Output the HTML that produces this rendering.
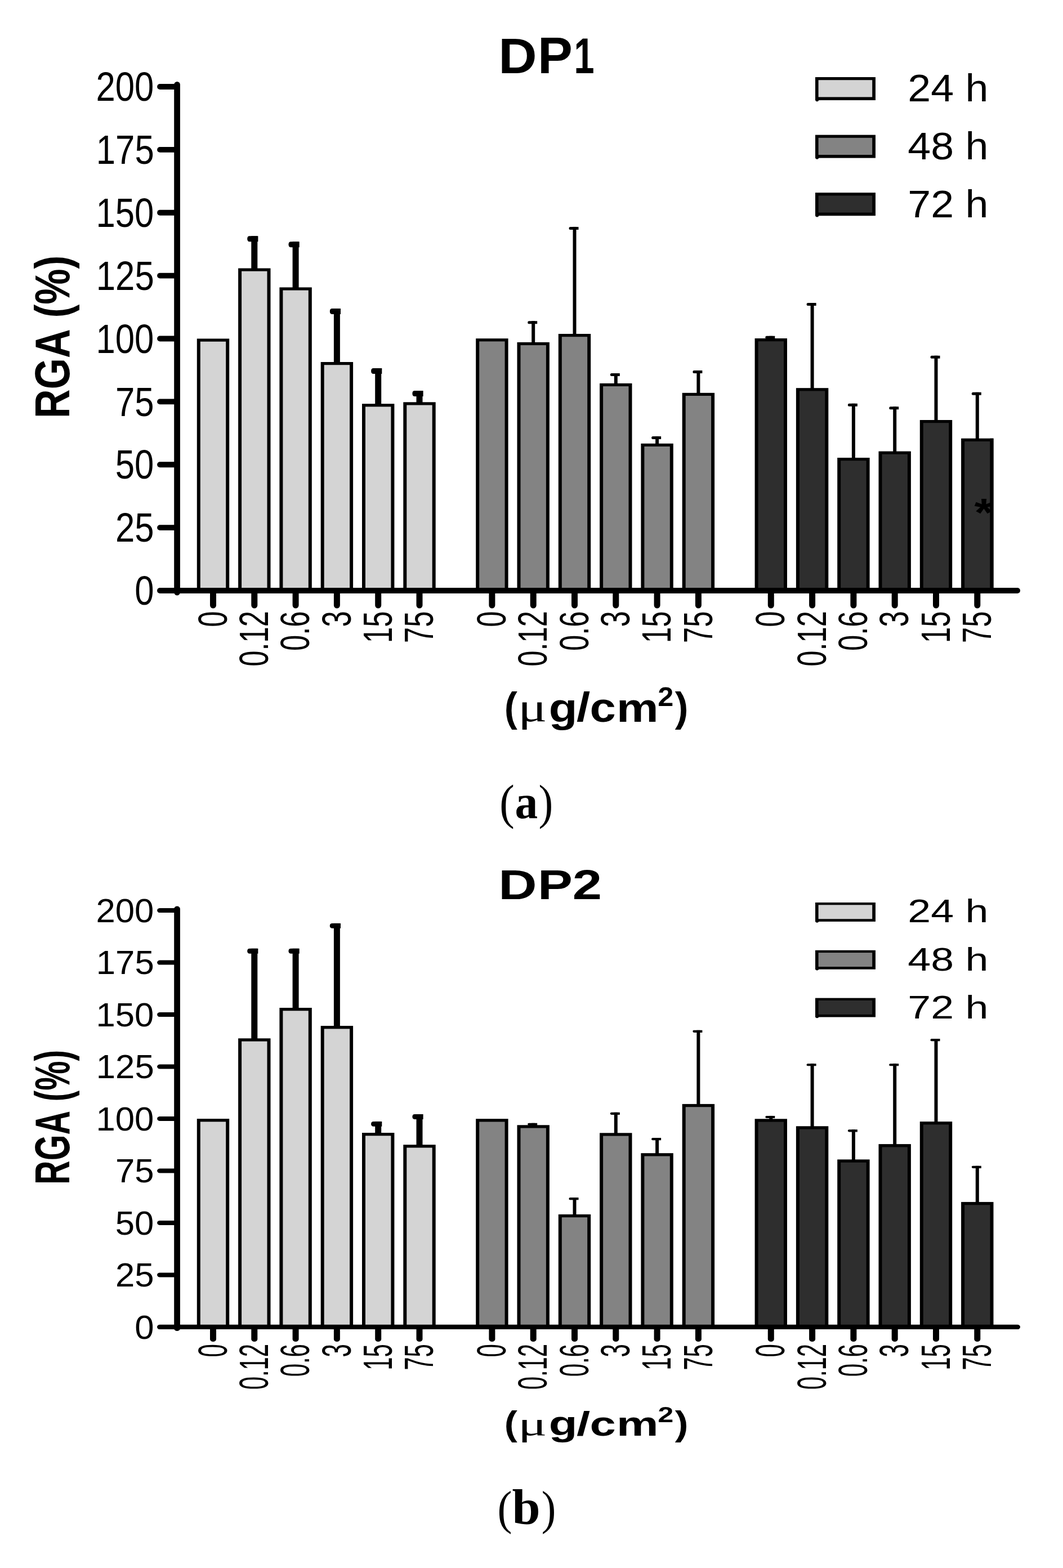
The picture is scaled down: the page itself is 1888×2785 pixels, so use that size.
<!DOCTYPE html>
<html><head><meta charset="utf-8"><title>RGA DP1 DP2</title>
<style>html,body{margin:0;padding:0;background:#fff;}svg{display:block;}text{font-kerning:none;}</style>
</head><body>
<svg width="1888" height="2785" viewBox="0 0 1888 2785">
<rect width="1888" height="2785" fill="#fff"/>
<text transform="translate(885.15,129.70) scale(1.0585,1)" font-family="'Liberation Sans', sans-serif" font-weight="bold" font-size="89.40">D</text>
<text transform="translate(954.97,130.15) scale(1.0306,1)" font-family="'Liberation Sans', sans-serif" font-weight="bold" font-size="90.05">P</text>
<text transform="translate(1019.58,129.70) scale(0.7265,1)" font-family="'Liberation Sans', sans-serif" font-weight="bold" font-size="89.40">1</text>
<rect x="1448" y="137.0" width="107" height="41" fill="#000"/>
<rect x="1453.6" y="142.2" width="95.6" height="30.2" fill="#d4d4d4"/>
<circle cx="1451.2" cy="177.2" r="3" fill="#000"/>
<text transform="translate(1612.30,179.90) scale(1.0660,1)" font-family="'Liberation Sans', sans-serif" font-weight="normal" font-size="69.00">24 h</text>
<rect x="1448" y="239.6" width="107" height="41" fill="#000"/>
<rect x="1453.6" y="244.8" width="95.6" height="30.2" fill="#838383"/>
<circle cx="1451.2" cy="279.8" r="3" fill="#000"/>
<text transform="translate(1612.30,282.80) scale(1.0660,1)" font-family="'Liberation Sans', sans-serif" font-weight="normal" font-size="69.00">48 h</text>
<rect x="1448" y="342.2" width="107" height="41" fill="#000"/>
<rect x="1453.6" y="347.4" width="95.6" height="30.2" fill="#2e2e2e"/>
<circle cx="1451.2" cy="382.4" r="3" fill="#000"/>
<text transform="translate(1612.30,385.70) scale(1.0660,1)" font-family="'Liberation Sans', sans-serif" font-weight="normal" font-size="69.00">72 h</text>
<rect x="349.80" y="601.50" width="57.4" height="447.50" fill="#000"/>
<rect x="355.80" y="606.70" width="45.40" height="442.30" fill="#d4d4d4"/>
<rect x="423.10" y="476.50" width="57.4" height="572.50" fill="#000"/>
<rect x="429.10" y="481.70" width="45.40" height="567.30" fill="#d4d4d4"/>
<rect x="446.30" y="419.30" width="11.0" height="58.20" fill="#000"/>
<path d="M458.40,419.30H443.20Q439.20,419.30 439.20,424.30Q439.20,429.30 443.20,429.30H458.40Z" fill="#000"/>
<rect x="496.40" y="510.40" width="57.4" height="538.60" fill="#000"/>
<rect x="502.40" y="515.60" width="45.40" height="533.40" fill="#d4d4d4"/>
<rect x="519.60" y="429.20" width="11.0" height="82.20" fill="#000"/>
<path d="M531.70,429.20H516.50Q512.50,429.20 512.50,434.20Q512.50,439.20 516.50,439.20H531.70Z" fill="#000"/>
<rect x="569.70" y="643.00" width="57.4" height="406.00" fill="#000"/>
<rect x="575.70" y="648.20" width="45.40" height="400.80" fill="#d4d4d4"/>
<rect x="592.90" y="548.00" width="11.0" height="96.00" fill="#000"/>
<path d="M605.00,548.00H589.80Q585.80,548.00 585.80,553.00Q585.80,558.00 589.80,558.00H605.00Z" fill="#000"/>
<rect x="643.00" y="717.20" width="57.4" height="331.80" fill="#000"/>
<rect x="649.00" y="722.40" width="45.40" height="326.60" fill="#d4d4d4"/>
<rect x="666.20" y="654.00" width="11.0" height="64.20" fill="#000"/>
<path d="M678.30,654.00H663.10Q659.10,654.00 659.10,659.00Q659.10,664.00 663.10,664.00H678.30Z" fill="#000"/>
<rect x="716.30" y="714.30" width="57.4" height="334.70" fill="#000"/>
<rect x="722.30" y="719.50" width="45.40" height="329.50" fill="#d4d4d4"/>
<rect x="739.50" y="694.10" width="11.0" height="21.20" fill="#000"/>
<path d="M751.60,694.10H736.40Q732.40,694.10 732.40,699.10Q732.40,704.10 736.40,704.10H751.60Z" fill="#000"/>
<rect x="845.20" y="601.20" width="57.4" height="447.80" fill="#000"/>
<rect x="851.20" y="606.40" width="45.40" height="442.60" fill="#838383"/>
<rect x="918.50" y="607.90" width="57.4" height="441.10" fill="#000"/>
<rect x="924.50" y="613.10" width="45.40" height="435.90" fill="#838383"/>
<rect x="944.20" y="570.20" width="6.0" height="38.70" fill="#000"/>
<path d="M954.20,570.20H939.20Q937.20,570.20 937.20,572.70Q937.20,575.20 939.20,575.20H954.20Z" fill="#000"/>
<rect x="991.80" y="593.00" width="57.4" height="456.00" fill="#000"/>
<rect x="997.80" y="598.20" width="45.40" height="450.80" fill="#838383"/>
<rect x="1017.50" y="402.90" width="6.0" height="191.10" fill="#000"/>
<path d="M1027.50,402.90H1012.50Q1010.50,402.90 1010.50,405.40Q1010.50,407.90 1012.50,407.90H1027.50Z" fill="#000"/>
<rect x="1065.10" y="680.90" width="57.4" height="368.10" fill="#000"/>
<rect x="1071.10" y="686.10" width="45.40" height="362.90" fill="#838383"/>
<rect x="1090.80" y="663.10" width="6.0" height="18.80" fill="#000"/>
<path d="M1100.80,663.10H1085.80Q1083.80,663.10 1083.80,665.60Q1083.80,668.10 1085.80,668.10H1100.80Z" fill="#000"/>
<rect x="1138.40" y="787.80" width="57.4" height="261.20" fill="#000"/>
<rect x="1144.40" y="793.00" width="45.40" height="256.00" fill="#838383"/>
<rect x="1164.10" y="774.90" width="6.0" height="13.90" fill="#000"/>
<path d="M1174.10,774.90H1159.10Q1157.10,774.90 1157.10,777.40Q1157.10,779.90 1159.10,779.90H1174.10Z" fill="#000"/>
<rect x="1211.70" y="697.80" width="57.4" height="351.20" fill="#000"/>
<rect x="1217.70" y="703.00" width="45.40" height="346.00" fill="#838383"/>
<rect x="1237.40" y="658.10" width="6.0" height="40.70" fill="#000"/>
<path d="M1247.40,658.10H1232.40Q1230.40,658.10 1230.40,660.60Q1230.40,663.10 1232.40,663.10H1247.40Z" fill="#000"/>
<rect x="1340.60" y="601.00" width="57.4" height="448.00" fill="#000"/>
<rect x="1346.60" y="606.20" width="45.40" height="442.80" fill="#2e2e2e"/>
<rect x="1366.30" y="596.80" width="6.0" height="5.20" fill="#000"/>
<path d="M1376.30,596.80H1361.30Q1359.30,596.80 1359.30,599.30Q1359.30,601.80 1361.30,601.80H1376.30Z" fill="#000"/>
<rect x="1413.90" y="689.20" width="57.4" height="359.80" fill="#000"/>
<rect x="1419.90" y="694.40" width="45.40" height="354.60" fill="#2e2e2e"/>
<rect x="1439.60" y="538.10" width="6.0" height="152.10" fill="#000"/>
<path d="M1449.60,538.10H1434.60Q1432.60,538.10 1432.60,540.60Q1432.60,543.10 1434.60,543.10H1449.60Z" fill="#000"/>
<rect x="1487.20" y="813.00" width="57.4" height="236.00" fill="#000"/>
<rect x="1493.20" y="818.20" width="45.40" height="230.80" fill="#2e2e2e"/>
<rect x="1512.90" y="716.80" width="6.0" height="97.20" fill="#000"/>
<path d="M1522.90,716.80H1507.90Q1505.90,716.80 1505.90,719.30Q1505.90,721.80 1507.90,721.80H1522.90Z" fill="#000"/>
<rect x="1560.50" y="801.60" width="57.4" height="247.40" fill="#000"/>
<rect x="1566.50" y="806.80" width="45.40" height="242.20" fill="#2e2e2e"/>
<rect x="1586.20" y="722.20" width="6.0" height="80.40" fill="#000"/>
<path d="M1596.20,722.20H1581.20Q1579.20,722.20 1579.20,724.70Q1579.20,727.20 1581.20,727.20H1596.20Z" fill="#000"/>
<rect x="1633.80" y="746.00" width="57.4" height="303.00" fill="#000"/>
<rect x="1639.80" y="751.20" width="45.40" height="297.80" fill="#2e2e2e"/>
<rect x="1659.50" y="631.70" width="6.0" height="115.30" fill="#000"/>
<path d="M1669.50,631.70H1654.50Q1652.50,631.70 1652.50,634.20Q1652.50,636.70 1654.50,636.70H1669.50Z" fill="#000"/>
<rect x="1707.10" y="778.70" width="57.4" height="270.30" fill="#000"/>
<rect x="1713.10" y="783.90" width="45.40" height="265.10" fill="#2e2e2e"/>
<text transform="translate(1730.57,934.76) scale(1.2264,1)" font-family="'Liberation Sans', sans-serif" font-weight="bold" font-size="70.81">*</text>
<rect x="1758.50" y="778.70" width="6" height="270.30" fill="#000"/>
<rect x="1732.80" y="696.80" width="6.0" height="82.90" fill="#000"/>
<path d="M1742.80,696.80H1727.80Q1725.80,696.80 1725.80,699.30Q1725.80,701.80 1727.80,701.80H1742.80Z" fill="#000"/>
<g stroke="#000" stroke-linecap="round" fill="none">
<line x1="314.55" y1="150.35" x2="314.55" y2="1052.25" stroke-width="10.7"/>
<line x1="284" y1="1049.0" x2="1807" y2="1049.0" stroke-width="10"/>
<line x1="284" y1="937.12" x2="314" y2="937.12" stroke-width="9.8"/>
<line x1="284" y1="825.25" x2="314" y2="825.25" stroke-width="9.8"/>
<line x1="284" y1="713.38" x2="314" y2="713.38" stroke-width="9.8"/>
<line x1="284" y1="601.50" x2="314" y2="601.50" stroke-width="9.8"/>
<line x1="284" y1="489.62" x2="314" y2="489.62" stroke-width="9.8"/>
<line x1="284" y1="377.75" x2="314" y2="377.75" stroke-width="9.8"/>
<line x1="284" y1="265.88" x2="314" y2="265.88" stroke-width="9.8"/>
<line x1="284" y1="154.00" x2="314" y2="154.00" stroke-width="9.8"/>
<line x1="378.50" y1="1053.0" x2="378.50" y2="1075" stroke-width="11"/>
<line x1="451.80" y1="1053.0" x2="451.80" y2="1075" stroke-width="11"/>
<line x1="525.10" y1="1053.0" x2="525.10" y2="1075" stroke-width="11"/>
<line x1="598.40" y1="1053.0" x2="598.40" y2="1075" stroke-width="11"/>
<line x1="671.70" y1="1053.0" x2="671.70" y2="1075" stroke-width="11"/>
<line x1="745.00" y1="1053.0" x2="745.00" y2="1075" stroke-width="11"/>
<line x1="873.90" y1="1053.0" x2="873.90" y2="1075" stroke-width="11"/>
<line x1="947.20" y1="1053.0" x2="947.20" y2="1075" stroke-width="11"/>
<line x1="1020.50" y1="1053.0" x2="1020.50" y2="1075" stroke-width="11"/>
<line x1="1093.80" y1="1053.0" x2="1093.80" y2="1075" stroke-width="11"/>
<line x1="1167.10" y1="1053.0" x2="1167.10" y2="1075" stroke-width="11"/>
<line x1="1240.40" y1="1053.0" x2="1240.40" y2="1075" stroke-width="11"/>
<line x1="1369.30" y1="1053.0" x2="1369.30" y2="1075" stroke-width="11"/>
<line x1="1442.60" y1="1053.0" x2="1442.60" y2="1075" stroke-width="11"/>
<line x1="1515.90" y1="1053.0" x2="1515.90" y2="1075" stroke-width="11"/>
<line x1="1589.20" y1="1053.0" x2="1589.20" y2="1075" stroke-width="11"/>
<line x1="1662.50" y1="1053.0" x2="1662.50" y2="1075" stroke-width="11"/>
<line x1="1735.80" y1="1053.0" x2="1735.80" y2="1075" stroke-width="11"/>
</g>
<text transform="translate(239.25,1074.20) scale(0.8480,1)" font-family="'Liberation Sans', sans-serif" font-weight="normal" font-size="72.70">0</text>
<text transform="translate(205.03,962.33) scale(0.8480,1)" font-family="'Liberation Sans', sans-serif" font-weight="normal" font-size="72.70">25</text>
<text transform="translate(204.73,850.45) scale(0.8480,1)" font-family="'Liberation Sans', sans-serif" font-weight="normal" font-size="72.70">50</text>
<text transform="translate(205.03,738.58) scale(0.8480,1)" font-family="'Liberation Sans', sans-serif" font-weight="normal" font-size="72.70">75</text>
<text transform="translate(170.51,626.70) scale(0.8480,1)" font-family="'Liberation Sans', sans-serif" font-weight="normal" font-size="72.70">100</text>
<text transform="translate(170.82,514.83) scale(0.8480,1)" font-family="'Liberation Sans', sans-serif" font-weight="normal" font-size="72.70">125</text>
<text transform="translate(170.51,402.95) scale(0.8480,1)" font-family="'Liberation Sans', sans-serif" font-weight="normal" font-size="72.70">150</text>
<text transform="translate(170.82,291.08) scale(0.8480,1)" font-family="'Liberation Sans', sans-serif" font-weight="normal" font-size="72.70">175</text>
<text transform="translate(170.51,179.20) scale(0.8480,1)" font-family="'Liberation Sans', sans-serif" font-weight="normal" font-size="72.70">200</text>
<text transform="translate(402.60,1113.87) rotate(-90) scale(0.7030,1)" font-family="'Liberation Sans', sans-serif" font-weight="normal" font-size="72.00">0</text>
<text transform="translate(475.90,1183.72) rotate(-90) scale(0.7030,1)" font-family="'Liberation Sans', sans-serif" font-weight="normal" font-size="72.00">0.12</text>
<text transform="translate(549.20,1155.88) rotate(-90) scale(0.7030,1)" font-family="'Liberation Sans', sans-serif" font-weight="normal" font-size="72.00">0.6</text>
<text transform="translate(622.50,1113.61) rotate(-90) scale(0.7030,1)" font-family="'Liberation Sans', sans-serif" font-weight="normal" font-size="72.00">3</text>
<text transform="translate(695.80,1141.96) rotate(-90) scale(0.7030,1)" font-family="'Liberation Sans', sans-serif" font-weight="normal" font-size="72.00">15</text>
<text transform="translate(769.10,1141.96) rotate(-90) scale(0.7030,1)" font-family="'Liberation Sans', sans-serif" font-weight="normal" font-size="72.00">75</text>
<text transform="translate(898.00,1113.87) rotate(-90) scale(0.7030,1)" font-family="'Liberation Sans', sans-serif" font-weight="normal" font-size="72.00">0</text>
<text transform="translate(971.30,1183.72) rotate(-90) scale(0.7030,1)" font-family="'Liberation Sans', sans-serif" font-weight="normal" font-size="72.00">0.12</text>
<text transform="translate(1044.60,1155.88) rotate(-90) scale(0.7030,1)" font-family="'Liberation Sans', sans-serif" font-weight="normal" font-size="72.00">0.6</text>
<text transform="translate(1117.90,1113.61) rotate(-90) scale(0.7030,1)" font-family="'Liberation Sans', sans-serif" font-weight="normal" font-size="72.00">3</text>
<text transform="translate(1191.20,1141.96) rotate(-90) scale(0.7030,1)" font-family="'Liberation Sans', sans-serif" font-weight="normal" font-size="72.00">15</text>
<text transform="translate(1264.50,1141.96) rotate(-90) scale(0.7030,1)" font-family="'Liberation Sans', sans-serif" font-weight="normal" font-size="72.00">75</text>
<text transform="translate(1393.40,1113.87) rotate(-90) scale(0.7030,1)" font-family="'Liberation Sans', sans-serif" font-weight="normal" font-size="72.00">0</text>
<text transform="translate(1466.70,1183.72) rotate(-90) scale(0.7030,1)" font-family="'Liberation Sans', sans-serif" font-weight="normal" font-size="72.00">0.12</text>
<text transform="translate(1540.00,1155.88) rotate(-90) scale(0.7030,1)" font-family="'Liberation Sans', sans-serif" font-weight="normal" font-size="72.00">0.6</text>
<text transform="translate(1613.30,1113.61) rotate(-90) scale(0.7030,1)" font-family="'Liberation Sans', sans-serif" font-weight="normal" font-size="72.00">3</text>
<text transform="translate(1686.60,1141.96) rotate(-90) scale(0.7030,1)" font-family="'Liberation Sans', sans-serif" font-weight="normal" font-size="72.00">15</text>
<text transform="translate(1759.90,1141.96) rotate(-90) scale(0.7030,1)" font-family="'Liberation Sans', sans-serif" font-weight="normal" font-size="72.00">75</text>
<text transform="translate(122.50,742.94) rotate(-90) scale(0.8267,1)" font-family="'Liberation Sans', sans-serif" font-weight="bold" font-size="86.30">RGA (%)</text>
<text transform="translate(895.64,1281.44) scale(0.9471,1)" font-family="'Liberation Sans', sans-serif" font-weight="bold" font-size="73.16">(</text>
<text transform="translate(920.11,1280.82) scale(1.3392,1)" font-family="'Liberation Serif', serif" font-weight="normal" font-size="71.79">μ</text>
<text transform="translate(974.78,1281.74) scale(1.1390,1)" font-family="'Liberation Sans', sans-serif" font-weight="bold" font-size="72.85">g</text>
<text transform="translate(1024.03,1281.05) scale(1.2023,1)" font-family="'Liberation Sans', sans-serif" font-weight="bold" font-size="72.62">/</text>
<text transform="translate(1047.47,1282.26) scale(1.1284,1)" font-family="'Liberation Sans', sans-serif" font-weight="bold" font-size="73.82">c</text>
<text transform="translate(1095.05,1281.90) scale(1.1458,1)" font-family="'Liberation Sans', sans-serif" font-weight="bold" font-size="73.15">m</text>
<text transform="translate(1168.14,1253.90) scale(1.0662,1)" font-family="'Liberation Sans', sans-serif" font-weight="bold" font-size="47.29">2</text>
<text transform="translate(1198.84,1281.44) scale(0.9764,1)" font-family="'Liberation Sans', sans-serif" font-weight="bold" font-size="73.16">)</text>
<g transform="matrix(1,0,0,0.82674,0,1489.72)"><text transform="translate(885.15,129.70) scale(1.0585,1)" font-family="'Liberation Sans', sans-serif" font-weight="bold" font-size="89.40">D</text>
<text transform="translate(954.97,130.15) scale(1.0306,1)" font-family="'Liberation Sans', sans-serif" font-weight="bold" font-size="90.05">P</text>
<text transform="translate(1016.71,129.70) scale(1.0510,1)" font-family="'Liberation Sans', sans-serif" font-weight="bold" font-size="89.40">2</text>
<rect x="1448" y="137.0" width="107" height="41" fill="#000"/>
<rect x="1453.6" y="142.2" width="95.6" height="30.2" fill="#d4d4d4"/>
<circle cx="1451.2" cy="177.2" r="3" fill="#000"/>
<text transform="translate(1612.30,179.90) scale(1.0660,1)" font-family="'Liberation Sans', sans-serif" font-weight="normal" font-size="69.00">24 h</text>
<rect x="1448" y="239.6" width="107" height="41" fill="#000"/>
<rect x="1453.6" y="244.8" width="95.6" height="30.2" fill="#838383"/>
<circle cx="1451.2" cy="279.8" r="3" fill="#000"/>
<text transform="translate(1612.30,282.80) scale(1.0660,1)" font-family="'Liberation Sans', sans-serif" font-weight="normal" font-size="69.00">48 h</text>
<rect x="1448" y="342.2" width="107" height="41" fill="#000"/>
<rect x="1453.6" y="347.4" width="95.6" height="30.2" fill="#2e2e2e"/>
<circle cx="1451.2" cy="382.4" r="3" fill="#000"/>
<text transform="translate(1612.30,385.70) scale(1.0660,1)" font-family="'Liberation Sans', sans-serif" font-weight="normal" font-size="69.00">72 h</text>
<rect x="349.80" y="601.62" width="57.4" height="447.38" fill="#000"/>
<rect x="355.80" y="608.02" width="45.40" height="440.98" fill="#d4d4d4"/>
<rect x="423.10" y="428.89" width="57.4" height="620.11" fill="#000"/>
<rect x="429.10" y="435.29" width="45.40" height="613.71" fill="#d4d4d4"/>
<rect x="446.30" y="235.96" width="11.0" height="193.93" fill="#000"/>
<path d="M458.40,235.96H443.52Q439.20,235.96 439.20,241.36Q439.20,246.76 443.52,246.76H458.40Z" fill="#000"/>
<rect x="496.40" y="363.21" width="57.4" height="685.79" fill="#000"/>
<rect x="502.40" y="369.61" width="45.40" height="679.39" fill="#d4d4d4"/>
<rect x="519.60" y="235.96" width="11.0" height="128.25" fill="#000"/>
<path d="M531.70,235.96H516.82Q512.50,235.96 512.50,241.36Q512.50,246.76 516.82,246.76H531.70Z" fill="#000"/>
<rect x="569.70" y="402.04" width="57.4" height="646.96" fill="#000"/>
<rect x="575.70" y="408.44" width="45.40" height="640.56" fill="#d4d4d4"/>
<rect x="592.90" y="181.65" width="11.0" height="221.38" fill="#000"/>
<path d="M605.00,181.65H590.12Q585.80,181.65 585.80,187.05Q585.80,192.45 590.12,192.45H605.00Z" fill="#000"/>
<rect x="643.00" y="631.73" width="57.4" height="417.27" fill="#000"/>
<rect x="649.00" y="638.13" width="45.40" height="410.87" fill="#d4d4d4"/>
<rect x="666.20" y="607.42" width="11.0" height="25.31" fill="#000"/>
<path d="M678.30,607.42H663.42Q659.10,607.42 659.10,612.82Q659.10,618.22 663.42,618.22H678.30Z" fill="#000"/>
<rect x="716.30" y="657.38" width="57.4" height="391.62" fill="#000"/>
<rect x="722.30" y="663.78" width="45.40" height="385.22" fill="#d4d4d4"/>
<rect x="739.50" y="591.82" width="11.0" height="66.56" fill="#000"/>
<path d="M751.60,591.82H736.72Q732.40,591.82 732.40,597.22Q732.40,602.62 736.72,602.62H751.60Z" fill="#000"/>
<rect x="845.20" y="601.74" width="57.4" height="447.26" fill="#000"/>
<rect x="851.20" y="608.14" width="45.40" height="440.86" fill="#838383"/>
<rect x="918.50" y="615.16" width="57.4" height="433.84" fill="#000"/>
<rect x="924.50" y="621.56" width="45.40" height="427.44" fill="#838383"/>
<rect x="944.20" y="610.93" width="6.0" height="5.23" fill="#000"/>
<path d="M954.20,610.93H939.20Q937.20,610.93 937.20,613.43Q937.20,615.93 939.20,615.93H954.20Z" fill="#000"/>
<rect x="991.80" y="807.00" width="57.4" height="242.00" fill="#000"/>
<rect x="997.80" y="813.40" width="45.40" height="235.60" fill="#838383"/>
<rect x="1017.50" y="770.96" width="6.0" height="37.05" fill="#000"/>
<path d="M1027.50,770.96H1012.50Q1010.50,770.96 1010.50,773.46Q1010.50,775.96 1012.50,775.96H1027.50Z" fill="#000"/>
<rect x="1065.10" y="632.10" width="57.4" height="416.90" fill="#000"/>
<rect x="1071.10" y="638.50" width="45.40" height="410.50" fill="#838383"/>
<rect x="1090.80" y="587.95" width="6.0" height="45.15" fill="#000"/>
<path d="M1100.80,587.95H1085.80Q1083.80,587.95 1083.80,590.45Q1083.80,592.95 1085.80,592.95H1100.80Z" fill="#000"/>
<rect x="1138.40" y="675.52" width="57.4" height="373.48" fill="#000"/>
<rect x="1144.40" y="681.92" width="45.40" height="367.08" fill="#838383"/>
<rect x="1164.10" y="642.74" width="6.0" height="33.78" fill="#000"/>
<path d="M1174.10,642.74H1159.10Q1157.10,642.74 1157.10,645.24Q1157.10,647.74 1159.10,647.74H1174.10Z" fill="#000"/>
<rect x="1211.70" y="569.93" width="57.4" height="479.07" fill="#000"/>
<rect x="1217.70" y="576.33" width="45.40" height="472.67" fill="#838383"/>
<rect x="1237.40" y="411.35" width="6.0" height="159.57" fill="#000"/>
<path d="M1247.40,411.35H1232.40Q1230.40,411.35 1230.40,413.85Q1230.40,416.35 1232.40,416.35H1247.40Z" fill="#000"/>
<rect x="1340.60" y="601.86" width="57.4" height="447.14" fill="#000"/>
<rect x="1346.60" y="608.26" width="45.40" height="440.74" fill="#2e2e2e"/>
<rect x="1366.30" y="595.33" width="6.0" height="7.53" fill="#000"/>
<path d="M1376.30,595.33H1361.30Q1359.30,595.33 1359.30,597.83Q1359.30,600.33 1361.30,600.33H1376.30Z" fill="#000"/>
<rect x="1413.90" y="617.58" width="57.4" height="431.42" fill="#000"/>
<rect x="1419.90" y="623.98" width="45.40" height="425.02" fill="#2e2e2e"/>
<rect x="1439.60" y="483.20" width="6.0" height="135.38" fill="#000"/>
<path d="M1449.60,483.20H1434.60Q1432.60,483.20 1432.60,485.70Q1432.60,488.20 1434.60,488.20H1449.60Z" fill="#000"/>
<rect x="1487.20" y="689.07" width="57.4" height="359.93" fill="#000"/>
<rect x="1493.20" y="695.47" width="45.40" height="353.53" fill="#2e2e2e"/>
<rect x="1512.90" y="624.84" width="6.0" height="65.23" fill="#000"/>
<path d="M1522.90,624.84H1507.90Q1505.90,624.84 1505.90,627.34Q1505.90,629.84 1507.90,629.84H1522.90Z" fill="#000"/>
<rect x="1560.50" y="656.05" width="57.4" height="392.95" fill="#000"/>
<rect x="1566.50" y="662.45" width="45.40" height="386.55" fill="#2e2e2e"/>
<rect x="1586.20" y="483.20" width="6.0" height="173.85" fill="#000"/>
<path d="M1596.20,483.20H1581.20Q1579.20,483.20 1579.20,485.70Q1579.20,488.20 1581.20,488.20H1596.20Z" fill="#000"/>
<rect x="1633.80" y="607.66" width="57.4" height="441.34" fill="#000"/>
<rect x="1639.80" y="614.06" width="45.40" height="434.94" fill="#2e2e2e"/>
<rect x="1659.50" y="429.86" width="6.0" height="178.81" fill="#000"/>
<path d="M1669.50,429.86H1654.50Q1652.50,429.86 1652.50,432.36Q1652.50,434.86 1654.50,434.86H1669.50Z" fill="#000"/>
<rect x="1707.10" y="780.39" width="57.4" height="268.61" fill="#000"/>
<rect x="1713.10" y="786.79" width="45.40" height="262.21" fill="#2e2e2e"/>
<rect x="1732.80" y="702.86" width="6.0" height="78.53" fill="#000"/>
<path d="M1742.80,702.86H1727.80Q1725.80,702.86 1725.80,705.36Q1725.80,707.86 1727.80,707.86H1742.80Z" fill="#000"/>
<g stroke="#000" stroke-linecap="round" fill="none">
<line x1="314.55" y1="150.35" x2="314.55" y2="1052.25" stroke-width="10.7"/>
<line x1="284" y1="1049.0" x2="1807" y2="1049.0" stroke-width="10"/>
<line x1="284" y1="937.12" x2="314" y2="937.12" stroke-width="9.8"/>
<line x1="284" y1="825.25" x2="314" y2="825.25" stroke-width="9.8"/>
<line x1="284" y1="713.38" x2="314" y2="713.38" stroke-width="9.8"/>
<line x1="284" y1="601.50" x2="314" y2="601.50" stroke-width="9.8"/>
<line x1="284" y1="489.62" x2="314" y2="489.62" stroke-width="9.8"/>
<line x1="284" y1="377.75" x2="314" y2="377.75" stroke-width="9.8"/>
<line x1="284" y1="265.88" x2="314" y2="265.88" stroke-width="9.8"/>
<line x1="284" y1="154.00" x2="314" y2="154.00" stroke-width="9.8"/>
<line x1="378.50" y1="1053.0" x2="378.50" y2="1075" stroke-width="11"/>
<line x1="451.80" y1="1053.0" x2="451.80" y2="1075" stroke-width="11"/>
<line x1="525.10" y1="1053.0" x2="525.10" y2="1075" stroke-width="11"/>
<line x1="598.40" y1="1053.0" x2="598.40" y2="1075" stroke-width="11"/>
<line x1="671.70" y1="1053.0" x2="671.70" y2="1075" stroke-width="11"/>
<line x1="745.00" y1="1053.0" x2="745.00" y2="1075" stroke-width="11"/>
<line x1="873.90" y1="1053.0" x2="873.90" y2="1075" stroke-width="11"/>
<line x1="947.20" y1="1053.0" x2="947.20" y2="1075" stroke-width="11"/>
<line x1="1020.50" y1="1053.0" x2="1020.50" y2="1075" stroke-width="11"/>
<line x1="1093.80" y1="1053.0" x2="1093.80" y2="1075" stroke-width="11"/>
<line x1="1167.10" y1="1053.0" x2="1167.10" y2="1075" stroke-width="11"/>
<line x1="1240.40" y1="1053.0" x2="1240.40" y2="1075" stroke-width="11"/>
<line x1="1369.30" y1="1053.0" x2="1369.30" y2="1075" stroke-width="11"/>
<line x1="1442.60" y1="1053.0" x2="1442.60" y2="1075" stroke-width="11"/>
<line x1="1515.90" y1="1053.0" x2="1515.90" y2="1075" stroke-width="11"/>
<line x1="1589.20" y1="1053.0" x2="1589.20" y2="1075" stroke-width="11"/>
<line x1="1662.50" y1="1053.0" x2="1662.50" y2="1075" stroke-width="11"/>
<line x1="1735.80" y1="1053.0" x2="1735.80" y2="1075" stroke-width="11"/>
</g>
<text transform="translate(239.25,1074.20) scale(0.8480,1)" font-family="'Liberation Sans', sans-serif" font-weight="normal" font-size="72.70">0</text>
<text transform="translate(205.03,962.33) scale(0.8480,1)" font-family="'Liberation Sans', sans-serif" font-weight="normal" font-size="72.70">25</text>
<text transform="translate(204.73,850.45) scale(0.8480,1)" font-family="'Liberation Sans', sans-serif" font-weight="normal" font-size="72.70">50</text>
<text transform="translate(205.03,738.58) scale(0.8480,1)" font-family="'Liberation Sans', sans-serif" font-weight="normal" font-size="72.70">75</text>
<text transform="translate(170.51,626.70) scale(0.8480,1)" font-family="'Liberation Sans', sans-serif" font-weight="normal" font-size="72.70">100</text>
<text transform="translate(170.82,514.83) scale(0.8480,1)" font-family="'Liberation Sans', sans-serif" font-weight="normal" font-size="72.70">125</text>
<text transform="translate(170.51,402.95) scale(0.8480,1)" font-family="'Liberation Sans', sans-serif" font-weight="normal" font-size="72.70">150</text>
<text transform="translate(170.82,291.08) scale(0.8480,1)" font-family="'Liberation Sans', sans-serif" font-weight="normal" font-size="72.70">175</text>
<text transform="translate(170.51,179.20) scale(0.8480,1)" font-family="'Liberation Sans', sans-serif" font-weight="normal" font-size="72.70">200</text>
<text transform="translate(402.60,1113.87) rotate(-90) scale(0.7030,1)" font-family="'Liberation Sans', sans-serif" font-weight="normal" font-size="72.00">0</text>
<text transform="translate(475.90,1183.72) rotate(-90) scale(0.7030,1)" font-family="'Liberation Sans', sans-serif" font-weight="normal" font-size="72.00">0.12</text>
<text transform="translate(549.20,1155.88) rotate(-90) scale(0.7030,1)" font-family="'Liberation Sans', sans-serif" font-weight="normal" font-size="72.00">0.6</text>
<text transform="translate(622.50,1113.61) rotate(-90) scale(0.7030,1)" font-family="'Liberation Sans', sans-serif" font-weight="normal" font-size="72.00">3</text>
<text transform="translate(695.80,1141.96) rotate(-90) scale(0.7030,1)" font-family="'Liberation Sans', sans-serif" font-weight="normal" font-size="72.00">15</text>
<text transform="translate(769.10,1141.96) rotate(-90) scale(0.7030,1)" font-family="'Liberation Sans', sans-serif" font-weight="normal" font-size="72.00">75</text>
<text transform="translate(898.00,1113.87) rotate(-90) scale(0.7030,1)" font-family="'Liberation Sans', sans-serif" font-weight="normal" font-size="72.00">0</text>
<text transform="translate(971.30,1183.72) rotate(-90) scale(0.7030,1)" font-family="'Liberation Sans', sans-serif" font-weight="normal" font-size="72.00">0.12</text>
<text transform="translate(1044.60,1155.88) rotate(-90) scale(0.7030,1)" font-family="'Liberation Sans', sans-serif" font-weight="normal" font-size="72.00">0.6</text>
<text transform="translate(1117.90,1113.61) rotate(-90) scale(0.7030,1)" font-family="'Liberation Sans', sans-serif" font-weight="normal" font-size="72.00">3</text>
<text transform="translate(1191.20,1141.96) rotate(-90) scale(0.7030,1)" font-family="'Liberation Sans', sans-serif" font-weight="normal" font-size="72.00">15</text>
<text transform="translate(1264.50,1141.96) rotate(-90) scale(0.7030,1)" font-family="'Liberation Sans', sans-serif" font-weight="normal" font-size="72.00">75</text>
<text transform="translate(1393.40,1113.87) rotate(-90) scale(0.7030,1)" font-family="'Liberation Sans', sans-serif" font-weight="normal" font-size="72.00">0</text>
<text transform="translate(1466.70,1183.72) rotate(-90) scale(0.7030,1)" font-family="'Liberation Sans', sans-serif" font-weight="normal" font-size="72.00">0.12</text>
<text transform="translate(1540.00,1155.88) rotate(-90) scale(0.7030,1)" font-family="'Liberation Sans', sans-serif" font-weight="normal" font-size="72.00">0.6</text>
<text transform="translate(1613.30,1113.61) rotate(-90) scale(0.7030,1)" font-family="'Liberation Sans', sans-serif" font-weight="normal" font-size="72.00">3</text>
<text transform="translate(1686.60,1141.96) rotate(-90) scale(0.7030,1)" font-family="'Liberation Sans', sans-serif" font-weight="normal" font-size="72.00">15</text>
<text transform="translate(1759.90,1141.96) rotate(-90) scale(0.7030,1)" font-family="'Liberation Sans', sans-serif" font-weight="normal" font-size="72.00">75</text>
<text transform="translate(122.50,742.94) rotate(-90) scale(0.8267,1)" font-family="'Liberation Sans', sans-serif" font-weight="bold" font-size="86.30">RGA (%)</text>
<text transform="translate(895.64,1281.44) scale(0.9471,1)" font-family="'Liberation Sans', sans-serif" font-weight="bold" font-size="73.16">(</text>
<text transform="translate(920.11,1280.82) scale(1.3392,1)" font-family="'Liberation Serif', serif" font-weight="normal" font-size="71.79">μ</text>
<text transform="translate(974.78,1281.74) scale(1.1390,1)" font-family="'Liberation Sans', sans-serif" font-weight="bold" font-size="72.85">g</text>
<text transform="translate(1024.03,1281.05) scale(1.2023,1)" font-family="'Liberation Sans', sans-serif" font-weight="bold" font-size="72.62">/</text>
<text transform="translate(1047.47,1282.26) scale(1.1284,1)" font-family="'Liberation Sans', sans-serif" font-weight="bold" font-size="73.82">c</text>
<text transform="translate(1095.05,1281.90) scale(1.1458,1)" font-family="'Liberation Sans', sans-serif" font-weight="bold" font-size="73.15">m</text>
<text transform="translate(1168.14,1253.90) scale(1.0662,1)" font-family="'Liberation Sans', sans-serif" font-weight="bold" font-size="47.29">2</text>
<text transform="translate(1198.84,1281.44) scale(0.9764,1)" font-family="'Liberation Sans', sans-serif" font-weight="bold" font-size="73.16">)</text></g>
<text transform="translate(887.22,1453.99) scale(0.9281,1)" font-family="'Liberation Serif', serif" font-weight="normal" font-size="85.78">(</text>
<text transform="translate(914.45,1453.38) scale(0.9683,1)" font-family="'Liberation Serif', serif" font-weight="bold" font-size="84.21">a</text>
<text transform="translate(956.58,1453.99) scale(0.9013,1)" font-family="'Liberation Serif', serif" font-weight="normal" font-size="85.78">)</text>
<text transform="translate(883.49,2706.83) scale(0.9121,1)" font-family="'Liberation Serif', serif" font-weight="normal" font-size="85.56">(</text>
<text transform="translate(909.55,2706.72) scale(1.0233,1)" font-family="'Liberation Serif', serif" font-weight="bold" font-size="88.14">b</text>
<text transform="translate(961.69,2706.83) scale(0.8991,1)" font-family="'Liberation Serif', serif" font-weight="normal" font-size="85.56">)</text>
</svg>
</body></html>
